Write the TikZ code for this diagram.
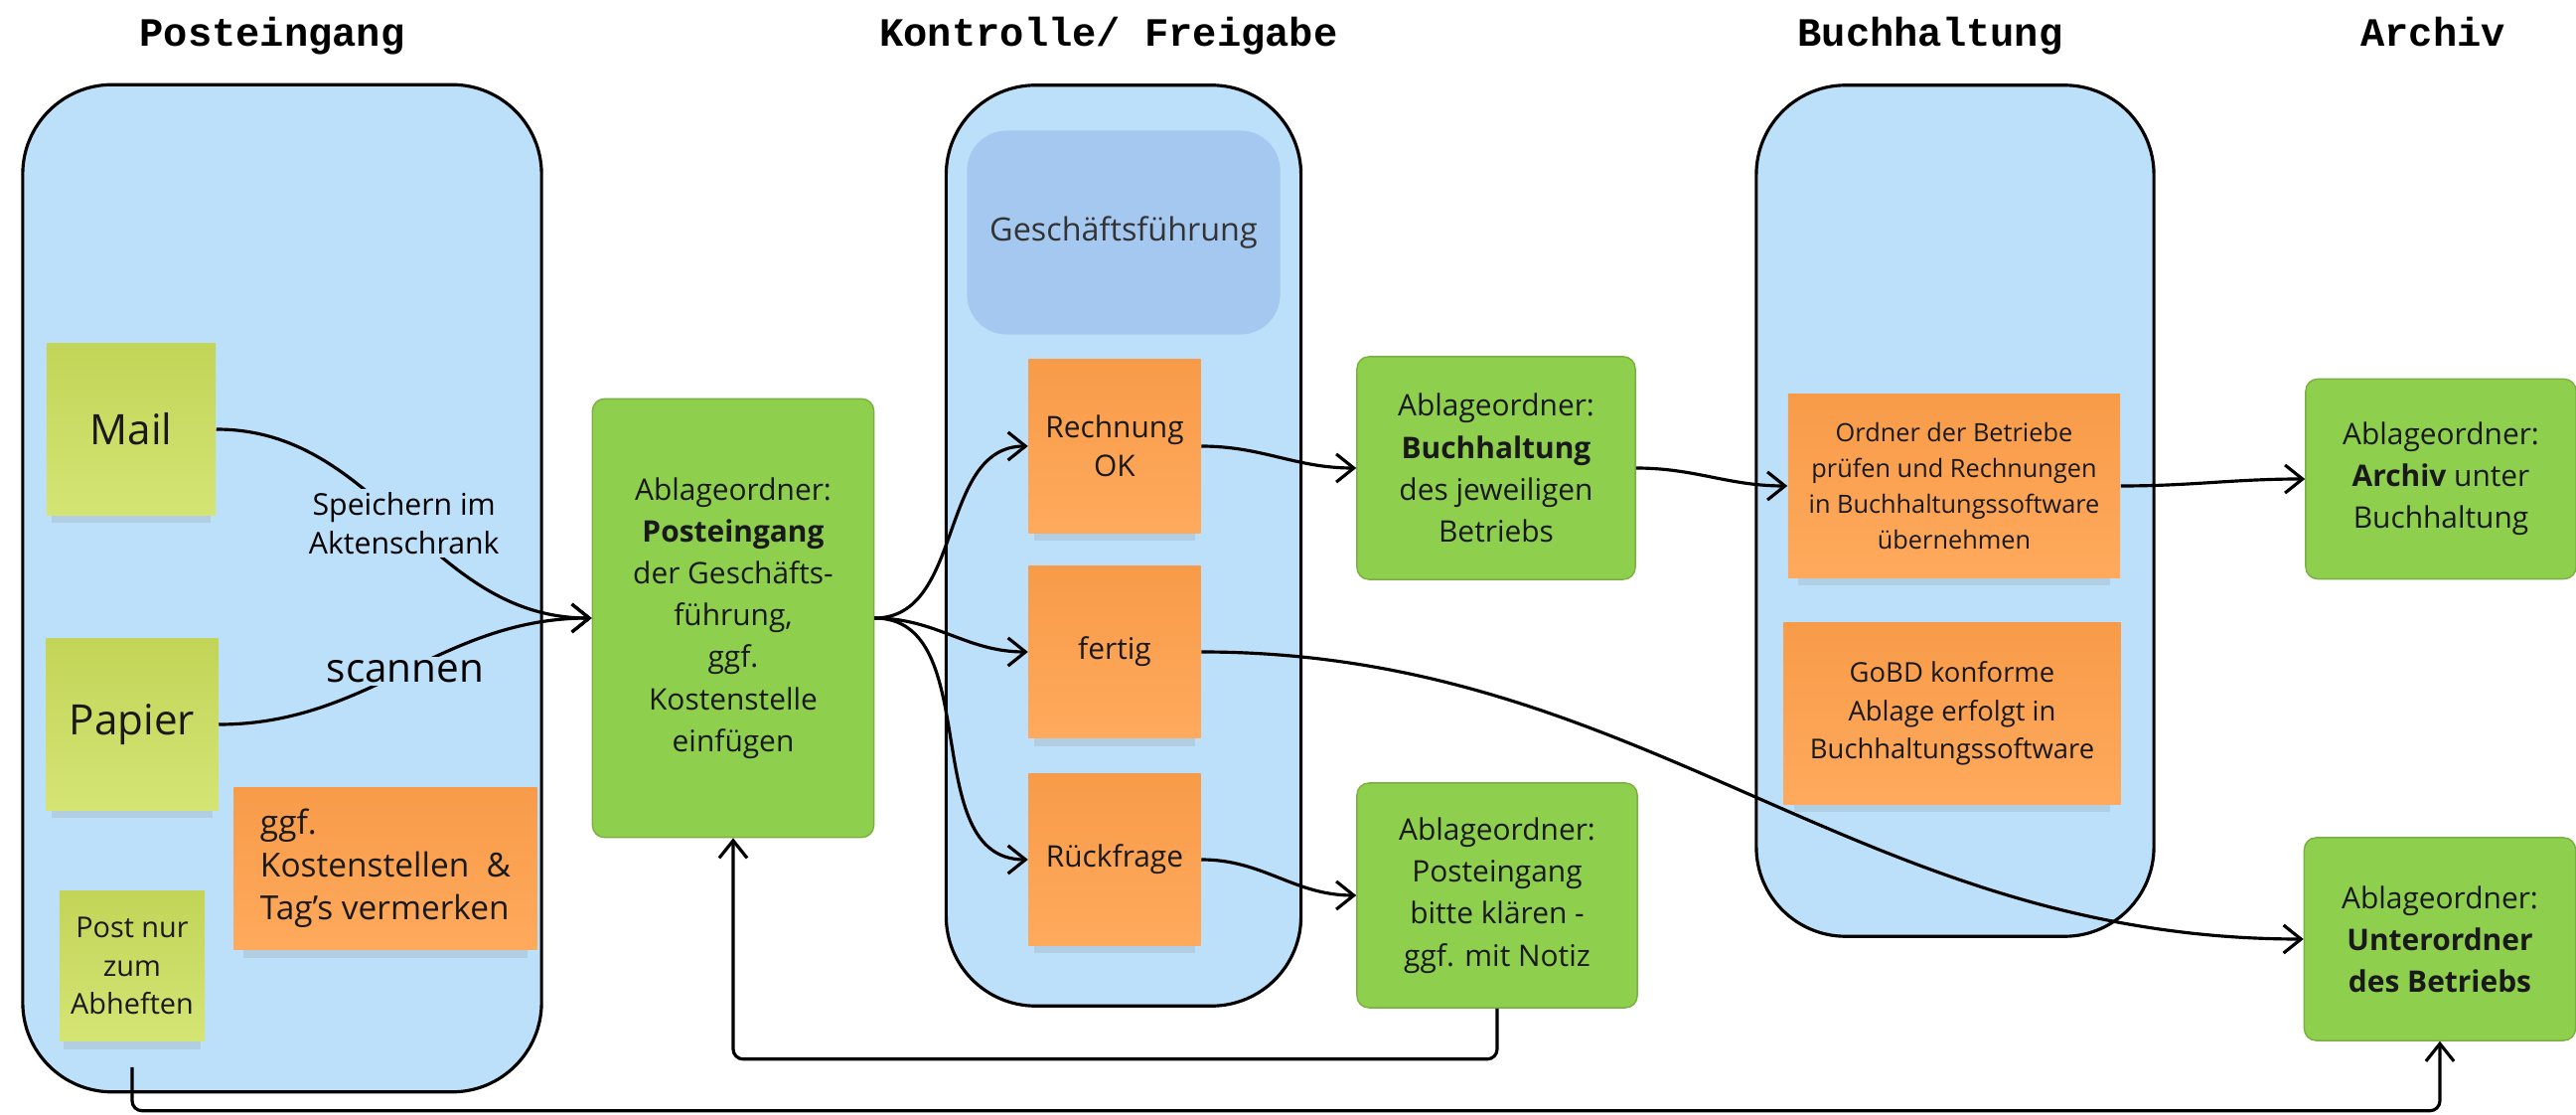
\documentclass[tikz,border=0pt]{standalone}
\usepackage{fontspec}
\setmainfont{Open Sans}
\newfontfamily\headfont{Liberation Mono}
\usepackage{tikz}
\usetikzlibrary{arrows.meta}
\usetikzlibrary{shadows}

\definecolor{lanecol}{RGB}{189,224,250}
\definecolor{gfblue}{RGB}{165,200,240}
\definecolor{foldergreen}{RGB}{143,207,78}
\definecolor{noteorange}{RGB}{255,160,75}
\definecolor{noteyellow}{RGB}{204,224,92}

\begin{document}
\begin{tikzpicture}[x=0.01cm,y=-0.01cm,
    lanebox/.style={draw=black,line width=0.9pt,fill=lanecol,rounded corners=0.9cm},
    lanetitle/.style={anchor=base,font=\headfont\bfseries\fontsize{11.5}{14}\selectfont},
    folderbox/.style={fill=foldergreen,draw=foldergreen!85!black,line width=0.4pt,
        rounded corners=0.12cm,align=center,inner sep=0pt,text=black!90,
        font=\fontsize{8.5}{12}\selectfont},
    note/.style={inner sep=0pt,align=center,text=black!90,
        drop shadow={shadow xshift=0pt,shadow yshift=-4pt,shadow scale=0.94,opacity=0.18}},
    yellownote/.style={note,top color=noteyellow!95!black,bottom color=noteyellow!85!white},
    orangenote/.style={note,top color=noteorange!97!black,bottom color=noteorange!90!white},
    flow/.style={line width=0.9pt,-{Straight Barb[length=5pt,width=8pt]}},
    flowlabel/.style={fill=lanecol,inner sep=1pt,align=center}
]
        \useasboundingbox (0,0) rectangle (2593,1122);

        % Lanes
        \node [lanebox,minimum width=5.22cm,minimum height=10.13cm] (lanepost) at (284,592) {};
        \node [lanebox,minimum width=3.57cm,minimum height=9.26cm] (lanefrei) at (1131,549) {};
        \node [lanebox,minimum width=4.00cm,minimum height=8.56cm] (lanebuch) at (1968,514) {};

        \node [lanetitle] (tpost) at (274,47) {Posteingang};
        \node [lanetitle] (tfrei) at (1116,47) {Kontrolle/ Freigabe};
        \node [lanetitle] (tbuch) at (1943,47) {Buchhaltung};
        \node [lanetitle] (tarch) at (2449,47) {Archiv};

        % Posteingang
        \node [yellownote,minimum width=1.70cm,minimum height=1.72cm,
            font=\fontsize{12}{14}\selectfont] (mail) at (132,432) {Mail};
        \node [yellownote,minimum width=1.73cm,minimum height=1.72cm,
            font=\fontsize{12}{14}\selectfont] (papier) at (133,729) {Papier};
        \node [orangenote,minimum width=3.05cm,minimum height=1.63cm,align=left,
            font=\fontsize{9.5}{12.2}\selectfont] (kosten) at (388,874)
            {ggf.\\Kostenstellen\ \ \&\\Tag's vermerken};
        \node [yellownote,minimum width=1.46cm,minimum height=1.50cm,
            font=\fontsize{8.2}{11}\selectfont] (abheften) at (133,972)
            {Post nur\\zum\\Abheften};

        \node [folderbox,minimum width=2.83cm,minimum height=4.41cm] (ablpost) at (738,622)
            {Ablageordner:\\\textbf{Posteingang}\\der Geschäfts-\\führung,\\ggf.\\Kostenstelle\\einfügen};

        % Kontrolle/ Freigabe
        \node [fill=gfblue,rounded corners=0.4cm,minimum width=3.15cm,minimum height=2.05cm,
            font=\fontsize{9.2}{12}\selectfont,text=black!80] (gf) at (1131,234) {Geschäftsführung};
        \node [orangenote,minimum width=1.73cm,minimum height=1.74cm,
            font=\fontsize{8.5}{11.2}\selectfont] (rechok) at (1122,449) {Rechnung\\OK};
        \node [orangenote,minimum width=1.73cm,minimum height=1.73cm,
            font=\fontsize{8.5}{11.2}\selectfont] (fertig) at (1122,656) {fertig};
        \node [orangenote,minimum width=1.73cm,minimum height=1.72cm,
            font=\fontsize{8.5}{11.2}\selectfont] (rueck) at (1122,865) {Rückfrage};

        \node [folderbox,minimum width=2.80cm,minimum height=2.24cm] (ablbuch) at (1506,471)
            {Ablageordner:\\\textbf{Buchhaltung}\\des jeweiligen\\Betriebs};
        \node [folderbox,minimum width=2.82cm,minimum height=2.26cm] (ablklaer) at (1507,901)
            {Ablageordner:\\Posteingang\\bitte klären -\\ggf. mit Notiz};

        % Buchhaltung
        \node [orangenote,minimum width=3.34cm,minimum height=1.85cm,
            font=\fontsize{7.2}{10.2}\selectfont] (pruefen) at (1967,489)
            {Ordner der Betriebe\\prüfen und Rechnungen\\in Buchhaltungssoftware\\übernehmen};
        \node [orangenote,minimum width=3.39cm,minimum height=1.83cm,
            font=\fontsize{7.8}{11}\selectfont] (gobd) at (1965,718)
            {GoBD konforme\\Ablage erfolgt in\\Buchhaltungssoftware};

        % Archiv
        \node [folderbox,minimum width=2.72cm,minimum height=2.01cm] (ablarchiv) at (2457,482)
            {Ablageordner:\\\textbf{Archiv} unter\\Buchhaltung};
        \node [folderbox,minimum width=2.73cm,minimum height=2.04cm] (ablunter) at (2456,945)
            {Ablageordner:\\\textbf{Unterordner}\\\textbf{des Betriebs}};

        % Connectors
        \draw [flow] (mail.east) to[out=0,in=180]
            node [flowlabel,font=\fontsize{8.6}{11}\selectfont] (speichern) {Speichern im\\Aktenschrank}
            (ablpost.west);
        \draw [flow] (papier.east) to[out=0,in=180]
            node [flowlabel,font=\fontsize{11.5}{14}\selectfont] (scannen) {scannen}
            (ablpost.west);
        \draw [flow] (ablpost.east) to[out=0,in=180] (rechok.west);
        \draw [flow] (ablpost.east) to[out=0,in=180] (fertig.west);
        \draw [flow] (ablpost.east) to[out=0,in=180] (rueck.west);
        \draw [flow] (rechok.east) to[out=0,in=180] (ablbuch.west);
        \draw [flow] (ablbuch.east) to[out=0,in=180] (pruefen.west);
        \draw [flow] (pruefen.east) to[out=0,in=180] (ablarchiv.west);
        \draw [flow] (fertig.east) to[out=0,in=180] (ablunter.west);
        \draw [flow] (rueck.east) to[out=0,in=180] (ablklaer.west);
        \draw [flow,rounded corners=0.1cm] (ablklaer.south) -- ++(0,51) -| (ablpost.south);
        \coordinate (abheftenout) at ([yshift=-0.26cm]abheften.south);
        \draw [flow,rounded corners=0.1cm] (abheftenout) -- ++(0,44) -| (ablunter.south);
\end{tikzpicture}
\end{document}
